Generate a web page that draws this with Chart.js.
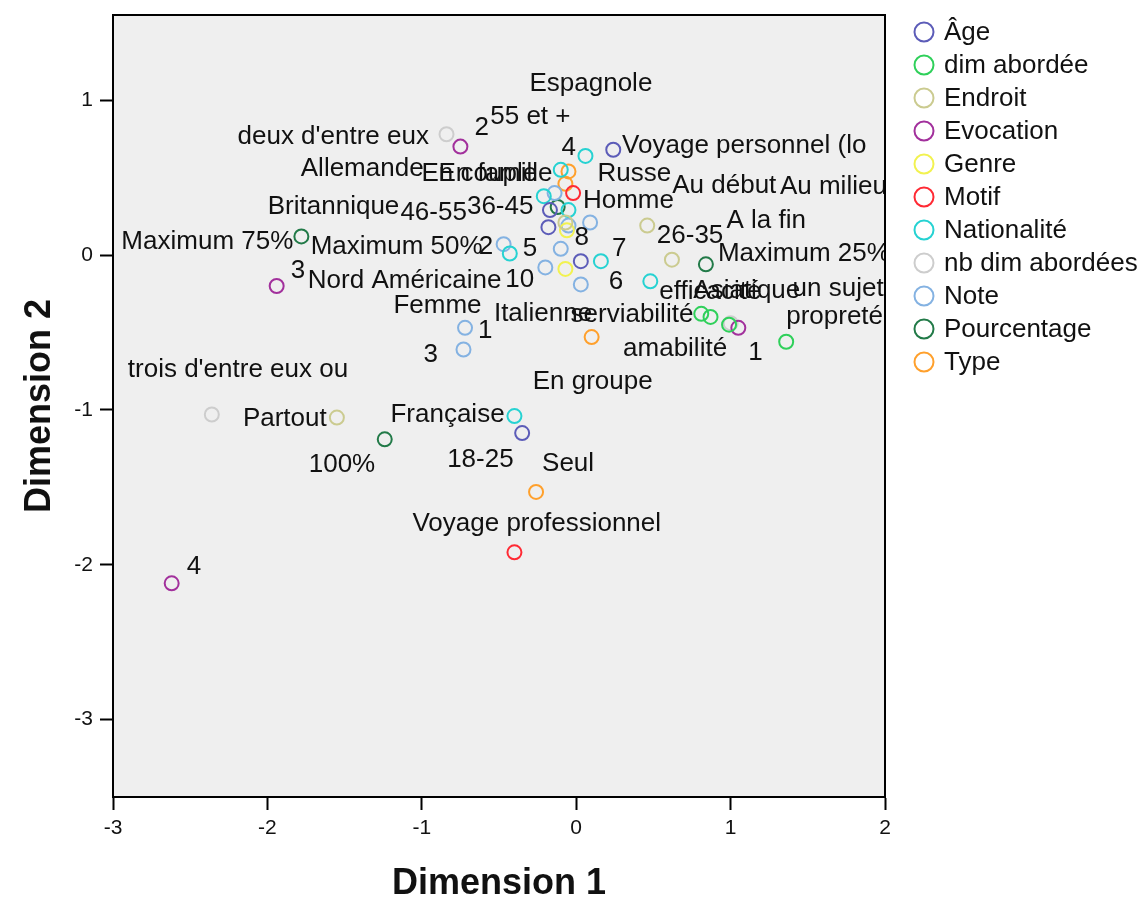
<!DOCTYPE html>
<html lang="fr">
<head>
<meta charset="UTF-8">
<title>Dimension 1 / Dimension 2</title>
<script src="https://cdn.jsdelivr.net/npm/chart.js@4.4.1/dist/chart.umd.min.js"></script>
<style>
  html, body { margin: 0; padding: 0; background: #fff; }
  #chart-container { width: 1145px; height: 902px; position: relative; }
</style>
</head>
<body>
<div id="chart-container"><canvas id="chart"></canvas></div>
<script>
// Séries (catégories de la légende)
const seriesNames = ['Âge', 'dim abordée', 'Endroit', 'Evocation', 'Genre', 'Motif',
  'Nationalité', 'nb dim abordées', 'Note', 'Pourcentage', 'Type'];

const ageLabels = ['55 et +', '46-55', '36-45', '26-35', '18-25'];
const ageX = [0.24, -0.18, -0.17, 0.03, -0.35];
const ageY = [0.68, 0.18, 0.29, -0.04, -1.15];

const dimLabels = ['efficacité', 'serviabilité', 'amabilité', 'propreté'];
const dimX = [0.81, 0.87, 0.99, 1.36];
const dimY = [-0.38, -0.40, -0.45, -0.56];

const endroitLabels = ['Au début', 'Au milieu', 'A la fin', 'Partout'];
const endroitX = [0.46, 0.62, -0.07, -1.55];
const endroitY = [0.19, -0.03, 0.21, -1.05];

const evocationLabels = ['1', '2', '3', '4'];
const evocationX = [1.05, -0.75, -1.94, -2.62];
const evocationY = [-0.47, 0.70, -0.20, -2.12];

const genreLabels = ['Homme', 'Femme'];
const genreX = [-0.06, -0.07];
const genreY = [0.16, -0.09];

const motifLabels = ['Voyage personnel (lo', 'Voyage professionnel'];
const motifX = [-0.02, -0.40];
const motifY = [0.40, -1.92];

const nationaliteLabels = ['Espagnole', 'Allemande', 'Russe', 'Britannique',
  'Nord Américaine', 'Asiatique', 'Italienne', 'Française'];
const nationaliteX = [0.06, -0.10, -0.05, -0.21, -0.43, 0.48, 0.16, -0.40];
const nationaliteY = [0.64, 0.55, 0.29, 0.38, 0.01, -0.17, -0.04, -1.04];

const nbDimLabels = ['un sujet', "deux d'entre eux", "trois d'entre eux ou"];
const nbDimX = [1.00, -0.84, -2.36];
const nbDimY = [-0.44, 0.78, -1.03];

const noteLabels = ['1', '2', '3', '4', '5', '6', '7', '8', '10'];
const noteX = [-0.72, -0.47, -0.73, -0.14, -0.10, 0.03, 0.09, -0.05, -0.20];
const noteY = [-0.47, 0.07, -0.61, 0.40, 0.04, -0.19, 0.21, 0.19, -0.08];

const pourcentageLabels = ['Maximum 25%', 'Maximum 50%', 'Maximum 75%', '100%'];
const pourcentageX = [0.84, -0.12, -1.78, -1.24];
const pourcentageY = [-0.06, 0.31, 0.12, -1.19];

const typeLabels = ['Seul', 'En couple', 'En famille', 'En groupe'];
const typeX = [-0.26, -0.05, -0.07, 0.10];
const typeY = [-1.53, 0.54, 0.46, -0.53];

const xTicks = [-3, -2, -1, 0, 1, 2];
const yTicks = [-3, -2, -1, 0, 1];

// couleurs SPSS
const colors = ['#5c5cb8', '#2fd05a', '#cbcb90', '#a2309c', '#f2f250', '#ff2a34',
  '#26d2d2', '#cdcdcd', '#84b2e2', '#227a48', '#ffa02c'];

// décalage des étiquettes (px, bord gauche / centre vertical) par rapport au point
const labelOffsets = {
  'Âge': { '55 et +': [-123, -33], '46-55': [-148, -14], '36-45': [-83, -3], '26-35': [76, -25], '18-25': [-75, 27] },
  'dim abordée': { 'efficacité': [-42, -22], 'serviabilité': [-140, -2], 'amabilité': [-106, 24], 'propreté': [0, -25] },
  'Endroit': { 'Au début': [25, -40], 'Au milieu': [108, -73], 'A la fin': [161, -2], 'Partout': [-94, 1] },
  'Evocation': { '1': [10, 25], '2': [14, -19], '3': [14, -15], '4': [15, -16] },
  'Genre': { 'Homme': [16, -29], 'Femme': [-172, 37] },
  'Motif': { 'Voyage personnel (lo': [49, -47], 'Voyage professionnel': [-102, -29] },
  'Nationalité': { 'Espagnole': [-56, -72], 'Allemande': [-260, -1], 'Russe': [29, -36], 'Britannique': [-276, 11],
    'Nord Américaine': [-202, 27], 'Asiatique': [43, 9], 'Italienne': [-107, 53], 'Française': [-124, -1] },
  'nb dim abordées': { 'un sujet': [62, -34], "deux d'entre eux": [-209, 3], "trois d'entre eux ou": [-84, -45] },
  'Note': { '1': [13, 3], '2': [-25, 3], '3': [-40, 5], '4': [7, -45], '5': [-38, 0], '6': [28, -3],
    '7': [22, 26], '8': [6, 12], '10': [-40, 12] },
  'Pourcentage': { 'Maximum 25%': [12, -10], 'Maximum 50%': [-247, 40], 'Maximum 75%': [-180, 5], '100%': [-76, 26] },
  'Type': { 'Seul': [6, -28], 'En couple': [-147, 2], 'En famille': [-127, -10], 'En groupe': [-59, 45] }
};

const seriesData = [
  [ageLabels, ageX, ageY], [dimLabels, dimX, dimY], [endroitLabels, endroitX, endroitY],
  [evocationLabels, evocationX, evocationY], [genreLabels, genreX, genreY], [motifLabels, motifX, motifY],
  [nationaliteLabels, nationaliteX, nationaliteY], [nbDimLabels, nbDimX, nbDimY], [noteLabels, noteX, noteY],
  [pourcentageLabels, pourcentageX, pourcentageY], [typeLabels, typeX, typeY]
];

const datasets = seriesNames.map((name, i) => {
  const [labels, xs, ys] = seriesData[i];
  return {
    label: name,
    data: xs.map((x, j) => ({ x: x, y: ys[j], name: labels[j] })),
    borderColor: colors[i],
    backgroundColor: 'rgba(0,0,0,0)',
    pointRadius: 7,
    pointBorderWidth: 2,
    pointHoverRadius: 7,
    showLine: false
  };
});

const FONT = "'Liberation Sans', Arial, Helvetica, sans-serif";

const plotPlugin = {
  id: 'plotDecor',
  beforeDraw(chart) {
    const a = chart.chartArea, ctx = chart.ctx;
    ctx.save();
    ctx.fillStyle = '#efefef';
    ctx.fillRect(a.left, a.top, a.right - a.left, a.bottom - a.top);
    ctx.restore();
  },
  afterDatasetsDraw(chart) {
    const a = chart.chartArea, ctx = chart.ctx;
    const xs = chart.scales.x, ys = chart.scales.y;
    ctx.save();
    ctx.beginPath();
    ctx.rect(a.left, a.top, a.right - a.left, a.bottom - a.top);
    ctx.clip();
    ctx.font = '26px ' + FONT;
    ctx.fillStyle = '#111';
    ctx.textAlign = 'left';
    ctx.textBaseline = 'middle';
    chart.data.datasets.forEach(ds => {
      const offs = labelOffsets[ds.label] || {};
      ds.data.forEach(p => {
        const o = offs[p.name] || [10, -14];
        ctx.fillText(p.name, xs.getPixelForValue(p.x) + o[0], ys.getPixelForValue(p.y) + o[1]);
      });
    });
    ctx.restore();
    // cadre haut et droit
    ctx.save();
    ctx.strokeStyle = '#000';
    ctx.lineWidth = 2;
    ctx.beginPath();
    ctx.moveTo(a.left, a.top);
    ctx.lineTo(a.right, a.top);
    ctx.lineTo(a.right, a.bottom);
    ctx.stroke();
    ctx.restore();
  },
  afterDraw(chart) {
    // légende à droite
    const ctx = chart.ctx;
    ctx.save();
    ctx.font = '26px ' + FONT;
    ctx.textAlign = 'left';
    ctx.textBaseline = 'middle';
    chart.data.datasets.forEach((ds, i) => {
      const y = 32 + i * 33;
      ctx.beginPath();
      ctx.arc(924, y, 9.5, 0, Math.PI * 2);
      ctx.strokeStyle = ds.borderColor;
      ctx.lineWidth = 2;
      ctx.stroke();
      ctx.fillStyle = '#111';
      ctx.fillText(ds.label, 944, y + 1);
    });
    ctx.restore();
  }
};

new Chart(document.getElementById('chart'), {
  type: 'scatter',
  data: { datasets: datasets },
  plugins: [plotPlugin],
  options: {
    responsive: true,
    maintainAspectRatio: false,
    animation: false,
    layout: { padding: { top: 15, right: 260, left: 0, bottom: 0 } },
    plugins: { legend: { display: false }, tooltip: { enabled: false } },
    scales: {
      x: {
        type: 'linear',
        min: -3,
        max: 2,
        afterBuildTicks: s => { s.ticks = xTicks.map(v => ({ value: v })); },
        afterFit: s => { s.height = 105; s.paddingLeft = 0; s.paddingRight = 0; },
        grid: { drawOnChartArea: false, tickLength: 13, tickWidth: 2, tickColor: '#000' },
        border: { color: '#000', width: 2 },
        ticks: { color: '#111', font: { family: FONT, size: 21 }, padding: 6, maxRotation: 0 },
        title: { display: true, text: 'Dimension 1', color: '#111',
          font: { family: FONT, size: 36, weight: 'bold', lineHeight: 1 }, padding: { top: 0, bottom: 0 } }
      },
      y: {
        type: 'linear',
        min: -3.5,
        max: 1.55,
        afterBuildTicks: s => { s.ticks = yTicks.map(v => ({ value: v })); },
        afterFit: s => { s.width = 113; s.paddingTop = 0; s.paddingBottom = 0; },
        grid: { drawOnChartArea: false, tickLength: 13, tickWidth: 2, tickColor: '#000' },
        border: { color: '#000', width: 2 },
        ticks: { color: '#111', font: { family: FONT, size: 21 }, padding: 7 },
        title: { display: true, text: 'Dimension 2', color: '#111',
          font: { family: FONT, size: 36, weight: 'bold', lineHeight: 1 }, padding: { top: 22, bottom: 0 } }
      }
    }
  }
});
</script>
</body>
</html>
